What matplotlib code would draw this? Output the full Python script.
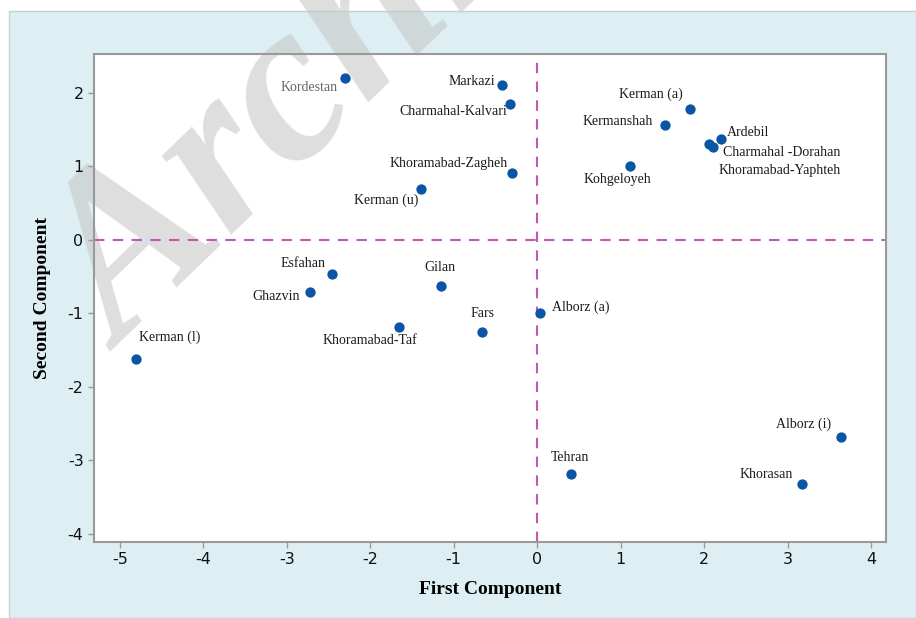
import matplotlib
matplotlib.use("Agg")
import matplotlib.pyplot as plt
from matplotlib.patches import Rectangle

plt.rcParams["axes.unicode_minus"] = False

names = ["Kordestan", "Markazi", "Charmahal-Kalvari", "Khoramabad-Zagheh", "Kerman (u)",
         "Kerman (a)", "Kermanshah", "Ardebil", "Charmahal -Dorahan", "Khoramabad-Yaphteh",
         "Kohgeloyeh", "Esfahan", "Ghazvin", "Gilan", "Kerman (l)", "Khoramabad-Taf",
         "Fars", "Alborz (a)", "Tehran", "Alborz (i)", "Khorasan"]
first_comp = [-2.30, -0.42, -0.32, -0.30, -1.39,
              1.83, 1.53, 2.20, 2.06, 2.11,
              1.11, -2.46, -2.72, -1.15, -4.81, -1.65,
              -0.66, 0.04, 0.41, 3.64, 3.17]
second_comp = [2.20, 2.11, 1.85, 0.91, 0.69,
               1.78, 1.56, 1.37, 1.31, 1.27,
               1.00, -0.46, -0.71, -0.62, -1.62, -1.18,
               -1.25, -0.99, -3.18, -2.68, -3.32]
x_ticks = [-5, -4, -3, -2, -1, 0, 1, 2, 3, 4]
y_ticks = [-4, -3, -2, -1, 0, 1, 2]

# label placement: (dx px, dy px, ha)
label_pos = {
    "Kordestan": (-8, -9, "right"),
    "Markazi": (-7, 3, "right"),
    "Charmahal-Kalvari": (-3, -8, "right"),
    "Khoramabad-Zagheh": (-4, 10, "right"),
    "Kerman (u)": (-3, -11, "right"),
    "Kerman (a)": (-7, 15, "right"),
    "Kermanshah": (-12, 4, "right"),
    "Ardebil": (6, 7, "left"),
    "Charmahal -Dorahan": (14, -9, "left"),
    "Khoramabad-Yaphteh": (5, -24, "left"),
    "Kohgeloyeh": (-12, -13, "center"),
    "Esfahan": (-6, 10, "right"),
    "Ghazvin": (-10, -4, "right"),
    "Gilan": (-1, 18, "center"),
    "Kerman (l)": (3, 22, "left"),
    "Khoramabad-Taf": (-30, -14, "center"),
    "Fars": (0, 18, "center"),
    "Alborz (a)": (12, 5, "left"),
    "Tehran": (-1, 16, "center"),
    "Alborz (i)": (-10, 13, "right"),
    "Khorasan": (-9, 9, "right"),
}

W, H = 916, 618
fig = plt.figure(figsize=(W / 100, H / 100), dpi=100)
fig.patch.set_facecolor("white")
panel = Rectangle((9 / W, 0), 1 - 9 / W, (H - 11) / H, transform=fig.transFigure,
                  facecolor="#ddeff3", edgecolor="#c8cfd2", linewidth=1.0, zorder=-10)
fig.patches.append(panel)

ax = fig.add_axes([94 / W, (H - 542) / H, (886 - 94) / W, (542 - 54) / H])
ax.set_zorder(1)
ax.set_facecolor("white")
ax.set_xlim(-5.31, 4.18)
ax.set_ylim(-4.11, 2.53)

ax.axhline(0, color="#c456b4", lw=1.5, ls=(0, (5, 4)), zorder=1)
ax.axvline(0, color="#c456b4", lw=1.5, ls=(0, (5, 4)), zorder=1)

ax.scatter(first_comp, second_comp, s=55, color="#0a55a5", zorder=3, linewidths=0)

for n, x, y in zip(names, first_comp, second_comp):
    dx, dy, ha = label_pos[n]
    col = "#666666" if n == "Kordestan" else "#1a1a1a"
    ax.annotate(n, (x, y), xytext=(dx, dy), textcoords="offset pixels",
                ha=ha, va="center", fontsize=10, family="Liberation Serif",
                color=col, zorder=4)

# watermark
ax.text(122 / W, (H - 352) / H, "Archive", transform=fig.transFigure, rotation=44,
        rotation_mode="anchor", ha="left", va="baseline", fontsize=165,
        family="Liberation Serif", fontweight="bold", fontstyle="italic",
        color="#c8c8c8", alpha=0.6, clip_on=False, zorder=0.5)

ax.set_xticks(x_ticks)
ax.set_yticks(y_ticks)
ax.tick_params(axis="both", direction="out", length=4, width=1, color="#999999",
               labelsize=11.5, labelcolor="#111111")
for sp in ax.spines.values():
    sp.set_color("#999999")
    sp.set_linewidth(1.5)

ax.set_xlabel("First Component", fontsize=14, fontweight="bold",
              family="Liberation Serif", labelpad=10)
ax.set_ylabel("Second Component", fontsize=14, fontweight="bold",
              family="Liberation Serif", labelpad=12)

fig.savefig("out.png", dpi=100)
